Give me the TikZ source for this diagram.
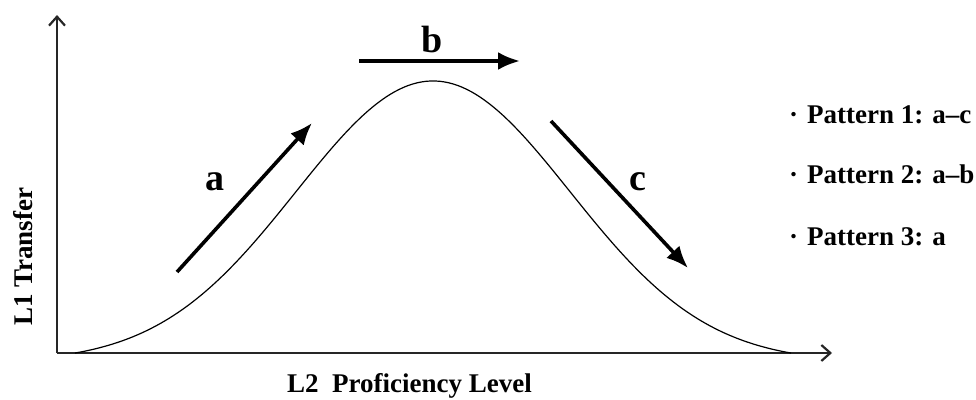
\documentclass[tikz,border=0pt]{standalone}
\usepackage{fontspec}
\setmainfont{Liberation Serif}
\usetikzlibrary{arrows.meta}

\begin{document}
\begin{tikzpicture}[
  x=1pt, y=-1pt,
  axis/.style={line width=2.2pt, black!85, -{Straight Barb[length=9pt, width=16pt, line width=2.2pt]}},
  trend/.style={line width=3.6pt, -{Latex[length=22pt, width=18pt]}},
  curve/.style={line width=1.2pt},
  letter/.style={font=\fontsize{38}{40}\selectfont\bfseries},
  pattern/.style={anchor=base west, inner sep=0pt, font=\fontsize{27}{30}\selectfont\bfseries},
  axlabel/.style={inner sep=0pt, font=\fontsize{27}{30}\selectfont\bfseries}
]
  \useasboundingbox (0,0) rectangle (976,399);

  \coordinate (origin) at (57,353);
  \coordinate (ytip) at (57,15);
  \coordinate (xtip) at (832,353);
  \draw[axis] (origin) -- (ytip);
  \draw[axis] (origin) -- (xtip);

  \draw[curve] plot[domain=75:791, samples=160]
    (\x, {353-272*(exp(-0.5*((\x-433)/137)^2)-0.033)/0.967});

  \coordinate (a0) at (177,272);
  \coordinate (a1) at (312,123);
  \coordinate (b0) at (359,61);
  \coordinate (b1) at (520,61);
  \coordinate (c0) at (551,121);
  \coordinate (c1) at (688,268);
  \draw[trend] (a0) -- (a1);
  \draw[trend] (b0) -- (b1);
  \draw[trend] (c0) -- (c1);

  \node[letter] (la) at (215,182) {a};
  \node[letter] (lb) at (432,40) {b};
  \node[letter] (lc) at (638,182) {c};

  \node[pattern] (pat1) at (789,123) {·\hspace{9pt}Pattern 1: a--c};
  \node[pattern] (pat2) at (789,183) {·\hspace{9pt}Pattern 2: a--b};
  \node[pattern] (pat3) at (789,245) {·\hspace{9pt}Pattern 3: a};

  \node[axlabel, anchor=base west, rotate=90] (ylab) at (32,326) {L1 Transfer};
  \node[axlabel, anchor=base west] (xlab) at (287,392) {L2\ \ Proficiency Level};
\end{tikzpicture}
\end{document}
